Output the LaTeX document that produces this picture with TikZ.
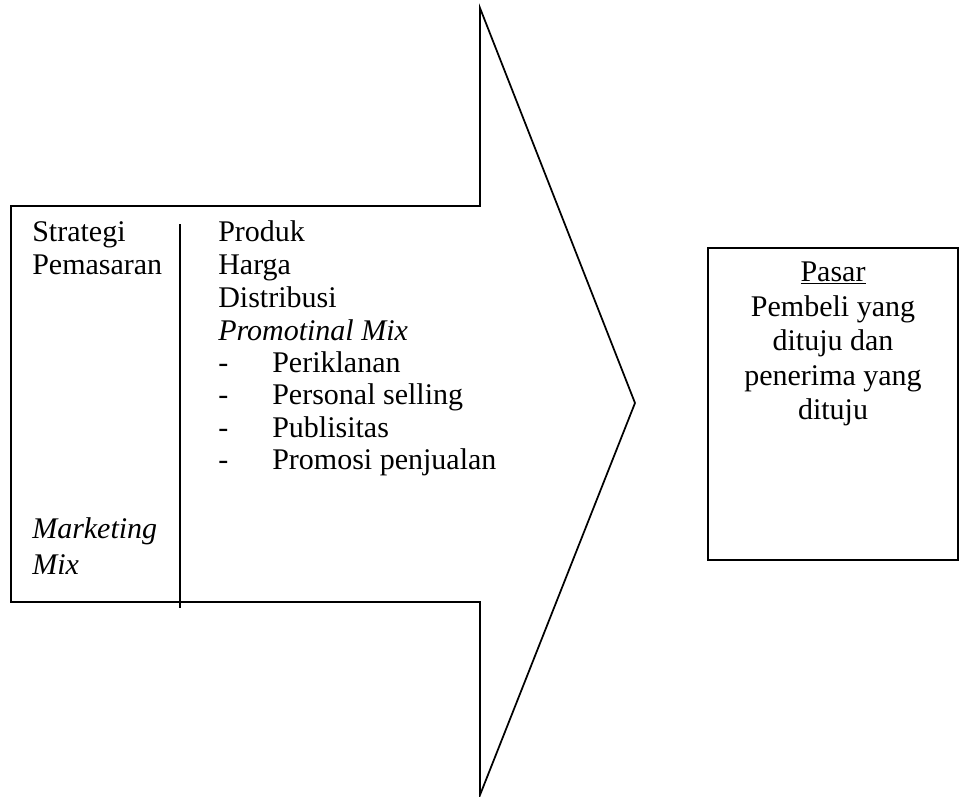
\documentclass[tikz,border=0pt]{standalone}
\usepackage{fontspec}
\setmainfont{Liberation Serif}
\begin{document}
\begin{tikzpicture}[x=0.75pt,y=-0.75pt,
  outline/.style={draw=black,line width=1.3pt,line join=miter},
  txt/.style={inner sep=0pt,anchor=base west,font=\fontsize{22.5}{25}\selectfont},
  ctr/.style={inner sep=0pt,anchor=base,font=\fontsize{22.5}{25}\selectfont}]
\useasboundingbox (0,0) rectangle (960,796);

% block arrow
\draw[outline] (11,206) coordinate (a1) -- (480,206) -- (480,8) -- (635,403)
  -- (480,795) -- (480,602) -- (11,602) -- cycle;

% column divider
\coordinate (d1) at (180,224);
\coordinate (d2) at (180,608);
\draw[line width=1.2pt] (d1) -- (d2);

% left column
\node[txt] (s1) at (32,241) {Strategi};
\node[txt] (s2) at (32,274) {Pemasaran};
\node[txt] (m1) at (32,538) {\itshape Marketing};
\node[txt] (m2) at (32,574) {\itshape Mix};

% right column
\node[txt] (r1) at (218,241) {Produk};
\node[txt] (r2) at (218,274) {Harga};
\node[txt] (r3) at (218,307) {Distribusi};
\node[txt] (r4) at (218,340) {\itshape Promotinal Mix};
\node[txt] (b1) at (218,372) {-};
\node[txt] (t1) at (272,372) {Periklanan};
\node[txt] (b2) at (218,404) {-};
\node[txt] (t2) at (272,404) {Personal selling};
\node[txt] (b3) at (218,437) {-};
\node[txt] (t3) at (272,437) {Publisitas};
\node[txt] (b4) at (218,469) {-};
\node[txt] (t4) at (272,469) {Promosi penjualan};

% target market box
\draw[outline] (708,248) rectangle (958,560);
\node[ctr] (p0) at (833,281) {\underline{Pasar}};
\node[ctr] (p1) at (833,316) {Pembeli yang};
\node[ctr] (p2) at (833,350) {dituju dan};
\node[ctr] (p3) at (833,385) {penerima yang};
\node[ctr] (p4) at (833,419) {dituju};
\end{tikzpicture}
\end{document}
